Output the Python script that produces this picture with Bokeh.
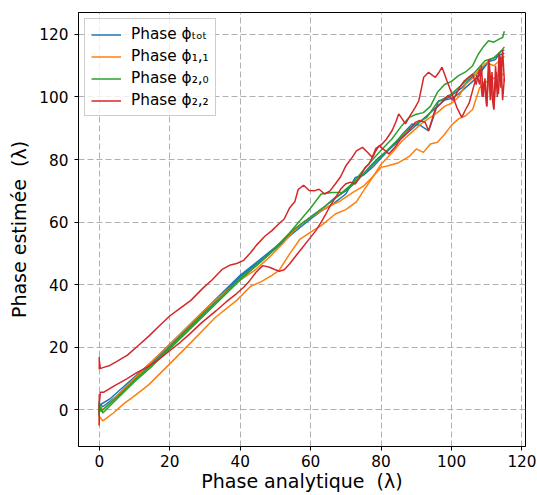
from bokeh.plotting import figure
from bokeh.models import Legend, LegendItem, FixedTicker, Range1d
from bokeh.embed import file_html
from bokeh.resources import INLINE

# ---- data ----
tot_a_x = [0, 0, 0, 0.5, 3, 6, 10, 15, 20, 25, 30, 35, 40, 45, 50, 55, 58, 61, 64, 67, 70, 73, 76.6, 79.4,
           82, 84, 86, 88.8, 91, 93.5, 95, 96.3, 98, 100, 102, 104, 106, 108, 109.5, 111, 112.5, 114.2, 115]
tot_a_y = [-2, 3, 0, 1.8, 3.5, 6.5, 10.5, 15.5, 21, 26.5, 32, 37.5, 43, 47.5, 52, 57, 60, 62.5, 65, 67.9, 70, 73,
           77.5, 80.7, 83, 85, 88, 91.4, 91, 89.2, 94, 98.8, 99, 99.5, 101, 103, 105, 107, 110.5, 111.5, 112,
           114.8, 115]
tot_b_x = [0, 0, 1, 5, 10, 15, 20, 25, 30, 35, 40, 45, 50, 55, 60, 63, 66, 70, 72.7, 75, 78, 80, 83, 86, 89,
           92, 95, 98, 100, 103, 106, 109, 111, 113, 115]
tot_b_y = [-1, 2, 1, 4.5, 10, 15, 20.5, 26, 31.5, 37, 42.5, 47, 51.5, 56.5, 61, 63.5, 65.5, 69, 74.3, 75, 78,
           80.5, 84, 87, 90, 93, 96, 99, 100.5, 103, 106.5, 109, 112, 113, 114]

p11_a_x = [0, 0, 1, 5, 10, 15, 20, 25, 30, 35, 40, 44, 48, 52, 55, 58, 62, 65, 68, 72, 75, 78, 80, 83, 86, 89,
           92, 94, 96, 98, 100, 102, 104, 106, 108, 110, 112, 114, 115]
p11_a_y = [-1, 1.5, 0, 4.5, 10, 15.5, 21, 26.5, 32, 37, 41.5, 44.5, 48.5, 53, 57, 60, 63, 65, 66.5, 69.5,
           71.5, 75, 78.5, 82, 86, 89, 92, 93.5, 95, 97, 98, 100, 104, 106, 109, 111, 110, 112, 113]
p11_b_x = [0, 0, 1, 4, 7, 10, 14, 20, 26, 33, 39, 43, 46, 49, 51, 54, 57, 60, 63, 67, 70, 73, 75, 78, 80, 82,
           85, 88, 90, 92, 94, 96, 98, 100, 102, 104, 106, 108, 110, 112, 114, 115]
p11_b_y = [-5, -2, -3.5, -1, 2, 4.5, 8, 14.7, 21.5, 29.6, 35, 39.5, 41, 43, 44.5, 49.8, 54.6, 56.8, 58.9,
           62.6, 64, 66.5, 70, 75, 77.5, 78, 79, 81, 83.4, 82.3, 85, 85.5, 88, 91, 93, 94, 96, 103, 105, 106,
           107.5, 107]

p20_a_x = [0, 0, 1, 5, 10, 15, 20, 25, 30, 35, 40, 44, 48, 51, 54, 57, 60, 63, 66, 69, 72, 76, 78, 80, 83, 86,
           88, 90, 92, 94, 96, 98, 100, 102, 104, 106, 107.5, 109, 110.5, 112, 113.5, 114.5, 115]
p20_a_y = [-2, 2, -1, 3.5, 9, 14, 19.5, 25, 30.5, 36, 41.5, 45.5, 49.5, 53, 56.5, 60.5, 64.5, 69, 69.5, 69.5,
           72.5, 78, 80.5, 83, 86.5, 91, 93.5, 94.5, 95, 97, 101.5, 104, 105, 106.8, 108, 110, 113.5, 116, 118,
           117.5, 118.5, 119, 121]
p20_b_x = [0, 0, 0.5, 5, 10, 15, 20, 25, 30, 35, 40, 45, 50, 55, 60, 64, 68, 72, 76, 80, 84, 87, 90, 93, 96,
           100, 102, 105, 107, 109.5, 112, 114.2, 115]
p20_b_y = [-1.5, 1, -0.5, 4, 9.5, 14.5, 20, 25.5, 31, 36.5, 42, 46.5, 51.5, 57.5, 61.5, 65, 68.5, 72, 76.5,
           81, 85.5, 89, 91.5, 93.5, 98.3, 101, 103, 106, 108.4, 111.6, 112.5, 114.8, 116]

p22_a_x = [0, 0, 0, 0.3, 1, 3, 5, 8, 11, 14, 17, 20, 23, 26, 29.5, 32, 35, 37, 39, 41, 43, 44.5, 47, 49, 51,
           52.5, 54, 55.5, 56.5, 58, 59.6, 61, 62.4, 64, 65.5, 67, 68.5, 70, 71.8, 73, 74.7, 76, 77.5, 78.5,
           80.3, 81.5, 83.1, 84.2, 85, 86, 86.9, 88.5, 89.7, 90.7, 91.5, 92.1, 93.5, 94.5, 95.4, 96.5, 97.3,
           98.7, 100.1, 101.5, 102.9, 104, 105, 106.2, 107.2, 108, 108.5, 109, 109.5, 110, 110.5, 111, 111.5,
           112, 112.5, 113, 113.5, 114, 114.5, 115]
p22_a_y = [17, 13, 16, 13.2, 13.5, 14.2, 15.5, 17.5, 20.5, 23.5, 26.8, 30, 32.5, 35, 39, 41.5, 45, 46.2, 46.8,
           47.8, 50.3, 52.5, 55.5, 57.3, 59.5, 61, 64.5, 66.5, 70.5, 71.8, 70.1, 70, 70.5, 69, 70, 72.2, 74.5,
           78, 80.7, 82.8, 83.9, 82.5, 80.7, 83.5, 85, 86.5, 89.2, 92, 94.6, 93, 91.4, 94.5, 96.7, 98.8, 103,
           106.3, 107.9, 107, 106.3, 108, 109.5, 105.2, 101, 96.7, 93.5, 96, 98, 103, 107, 104, 110, 100, 106,
           97, 112, 99, 108, 96, 110, 100, 114, 103, 115, 105]
p22_b_x = [0, 0, 0, 0, 0.3, 1.2, 4, 7.8, 10.5, 13.5, 17, 20, 23, 25.7, 29, 33.2, 36, 38.9, 41, 42.7, 44.5,
           46.4, 48.3, 50, 51.1, 52.5, 54, 56, 57.7, 59.5, 61.5, 63, 64.3, 65.7, 67.1, 68.5, 69.9, 71.3, 72.7,
           74, 75.5, 76.6, 78.5, 79.4, 81, 82.2, 84, 85.5, 87.9, 89.7, 91, 92.5, 93.5, 95.4, 97, 99, 100.5, 102,
           103.5, 104.8, 106, 107, 108, 108.7, 109.3, 110, 110.7, 111.3, 112, 112.7, 113.3, 114, 114.5, 115]
p22_b_y = [-5, 5, -3, 2, 5.6, 5.6, 7.5, 9.9, 11.8, 13.6, 16.2, 18.9, 21.6, 24.3, 27.8, 31.7, 34.5, 37.1, 39.2,
           41.3, 44, 46.1, 45.6, 44.8, 44.3, 44.8, 46.6, 49.5, 51.9, 54.5, 57.3, 60, 62.6, 65.5, 67.9, 70.5,
           72.2, 72.8, 72.2, 74.5, 77.5, 78.6, 82.8, 84.4, 83, 81.8, 84, 86.5, 89.2, 91.9, 92.5, 91.9, 89.2,
           96.2, 98, 100.5, 99, 102.5, 105, 106.3, 107.3, 104, 109, 100, 105, 97, 111, 102, 96, 108, 101, 113,
           99, 106]

x_ticks = [0, 20, 40, 60, 80, 100, 120]
y_ticks = [0, 20, 40, 60, 80, 100, 120]
labels = ["Phase \u03d5\u209c\u2092\u209c", "Phase \u03d5\u2081,\u2081", "Phase \u03d5\u2082,\u2080",
          "Phase \u03d5\u2082,\u2082"]
colors = ["#1f77b4", "#ff7f0e", "#2ca02c", "#d62728"]

FONT = "DejaVu Sans"

p = figure(width=537, height=495, output_backend="svg", toolbar_location=None,
           x_range=Range1d(-5.9, 121.0), y_range=Range1d(-11.7, 127.0),
           min_border_left=78, min_border_right=12, min_border_top=12, min_border_bottom=49)

series = [
    (tot_a_x, tot_a_y, tot_b_x, tot_b_y),
    (p11_a_x, p11_a_y, p11_b_x, p11_b_y),
    (p20_a_x, p20_a_y, p20_b_x, p20_b_y),
    (p22_a_x, p22_a_y, p22_b_x, p22_b_y),
]
items = []
for (ax, ay, bx, by), c, lab in zip(series, colors, labels):
    ra = p.line(ax, ay, line_color=c, line_width=1.5)
    p.line(bx, by, line_color=c, line_width=1.5)
    items.append(LegendItem(label=lab, renderers=[ra]))

p.xaxis.ticker = FixedTicker(ticks=x_ticks)
p.yaxis.ticker = FixedTicker(ticks=y_ticks)
p.xaxis.axis_label = "Phase analytique\u00a0 (\u03bb)"
p.yaxis.axis_label = "Phase estim\u00e9e\u00a0 (\u03bb)"
for ax in (p.xaxis, p.yaxis):
    ax.axis_label_text_font = FONT
    ax.axis_label_text_font_size = "19px"
    ax.axis_label_text_font_style = "normal"
    ax.axis_label_text_color = "black"
    ax.major_label_text_font = FONT
    ax.major_label_text_font_size = "15.3px"
    ax.major_label_text_color = "black"
    ax.axis_line_color = "black"
    ax.major_tick_line_color = "black"
    ax.major_tick_out = 4
    ax.major_tick_in = 0
    ax.minor_tick_line_color = None
p.xaxis.major_label_standoff = 4
p.xaxis.axis_label_standoff = 0
p.yaxis.major_label_standoff = 6
p.yaxis.axis_label_standoff = 6

for g in (p.xgrid, p.ygrid):
    g.grid_line_color = "#b0b0b0"
    g.grid_line_dash = "6 3"
    g.grid_line_width = 1
p.outline_line_color = "black"
p.outline_line_width = 1
p.outline_line_alpha = 1

legend = Legend(items=items, location="top_left", margin=6, padding=6, spacing=4,
                label_height=17, glyph_height=17, glyph_width=30, label_standoff=10,
                label_text_font=FONT, label_text_font_size="15.3px", label_text_color="black",
                border_line_color="#cccccc", border_line_alpha=1,
                background_fill_color="white", background_fill_alpha=0.8)
p.add_layout(legend)

open("out.html", "w").write(file_html(p, INLINE))
